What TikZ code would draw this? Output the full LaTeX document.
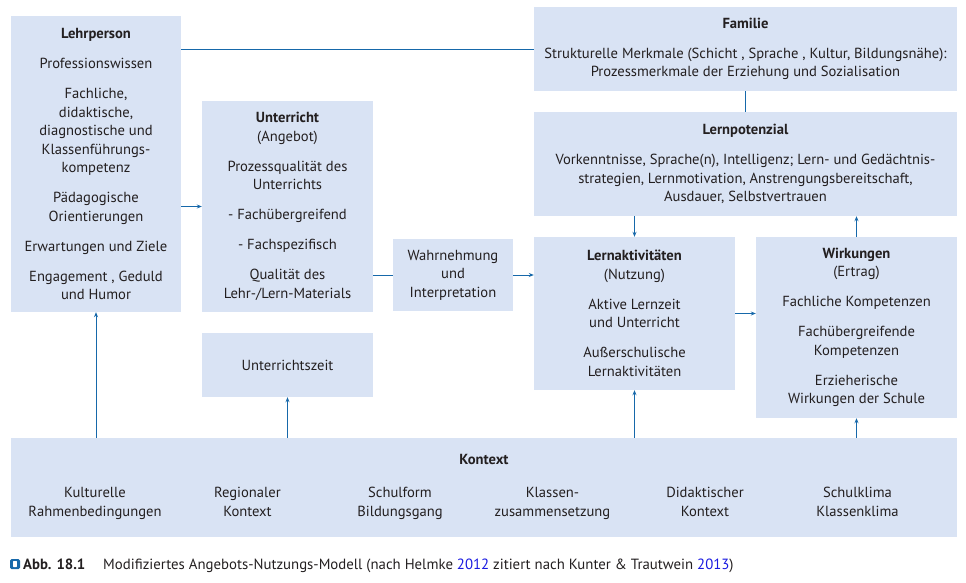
\documentclass[tikz,border=0pt]{standalone}
\usepackage{fontspec}
\setmainfont{PT Sans}
\usetikzlibrary{arrows.meta,positioning}
\definecolor{boxfill}{RGB}{217,227,244}
\definecolor{linkblue}{RGB}{22,104,170}
\definecolor{citeblue}{RGB}{25,25,225}
\definecolor{textgray}{RGB}{35,31,32}
\tikzset{
  box/.style={fill=boxfill,inner sep=0pt,align=center,text=textgray,
    font=\fontsize{14.6}{18.5}\selectfont},
  ctxitem/.style={box,fill=none,execute at begin node=\strut,execute at end node=\strut},
  link/.style={linkblue,line width=1pt},
  arr/.style={link,-{Stealth[length=5pt,width=4pt]}},
  caption/.style={inner sep=0pt,text=textgray,font=\fontsize{14.8}{16}\selectfont},
}
\begin{document}
\begin{tikzpicture}[x=1pt,y=-1pt]
\useasboundingbox (0,0) rectangle (966,582);
% Boxes
\node[box,minimum width=170,minimum height=296] (lehrperson) at (96,164)
  {\textbf{Lehrperson}\\[11.5pt] Professionswissen\\[11.5pt] Fachliche,\\didaktische,\\diagnostische und\\Klassenführungs-\\kompetenz\\[11.5pt] Pädagogische\\Orientierungen\\[11.5pt] Erwartungen und Ziele\\[11.5pt] Engagement , Geduld\\und Humor};
\node[box,minimum width=171,minimum height=211] (unterricht) at (287.5,206.5)
  {\textbf{Unterricht}\\(Angebot)\\[11.5pt] Prozessqualität des\\Unterrichts\\[11.5pt] - Fachübergreifend\\[11.5pt] - Fachspezifisch\\[11.5pt] Qualität des\\Lehr-/Lern-Materials};
\node[box,minimum width=171,minimum height=64] (uzeit) at (287.5,365) {Unterrichtszeit};
\node[box,minimum width=120,minimum height=72] (wahrnehmung) at (453,275)
  {Wahrnehmung\\und\\Interpretation};
\node[box,minimum width=423,minimum height=84] (familie) at (745.5,49)
  {\textbf{Familie}\\[11.5pt] Strukturelle Merkmale (Schicht , Sprache , Kultur, Bildungsnähe):\\Prozessmerkmale der Erziehung und Sozialisation};
\node[box,minimum width=423,minimum height=104] (lernpot) at (745.5,164)
  {\textbf{Lernpotenzial}\\[11.5pt] Vorkenntnisse, Sprache(n), Intelligenz; Lern- und Gedächtnis-\\strategien, Lernmotivation, Anstrengungsbereitschaft,\\Ausdauer, Selbstvertrauen};
\node[box,minimum width=201,minimum height=153] (lernakt) at (634.5,313.5)
  {\textbf{Lernaktivitäten}\\(Nutzung)\\[11.5pt] Aktive Lernzeit\\und Unterricht\\[11.5pt] Außerschulische\\Lernaktivitäten};
\node[box,minimum width=201,minimum height=181] (wirkungen) at (856.5,327.5)
  {\textbf{Wirkungen}\\(Ertrag)\\[11.5pt] Fachliche Kompetenzen\\[11.5pt] Fachübergreifende\\Kompetenzen\\[11.5pt] Erzieherische\\Wirkungen der Schule};
\node[box,minimum width=946,minimum height=99] (kontext) at (484,487.5) {};
\node[box,fill=none] (ktitle) at (484,459) {\textbf{Kontext}};
\foreach \txt [count=\i] in {Kulturelle\\Rahmenbedingungen,Regionaler\\Kontext,Schulform\\Bildungsgang,Klassen-\\zusammensetzung,Didaktischer\\Kontext,Schulklima\\Klassenklima}
  \node[ctxitem] (k\i) at ({95+152.5*(\i-1)},504.5) {\txt};
% Connectors
\draw[link] (lehrperson.east |- familie.west) -- (familie.west);
\draw[arr] (lehrperson.east |- unterricht.west) -- (unterricht.west);
\draw[link] (unterricht.east |- wahrnehmung.west) -- (wahrnehmung.west);
\draw[arr] (wahrnehmung.east) -- (wahrnehmung.east -| lernakt.west);
\draw[arr] (lernakt.east) -- (lernakt.east -| wirkungen.west);
\draw[link] (familie) -- (lernpot);
\draw[arr] (lernpot.south -| lernakt.north) -- (lernakt.north);
\draw[arr] (wirkungen.north) -- (wirkungen.north |- lernpot.south);
\draw[arr] (kontext.north -| lehrperson.south) -- (lehrperson.south);
\draw[arr] (kontext.north -| uzeit.south) -- (uzeit.south);
\draw[arr] (kontext.north -| lernakt.south) -- (lernakt.south);
\draw[arr] (kontext.north -| wirkungen.south) -- (wirkungen.south);
% Caption
\node[fill=linkblue,rounded corners=1.5pt,minimum size=10pt,inner sep=0pt] (icon) at (15,564) {};
\fill[white,rounded corners=0.5pt] (icon.center) ++(-1.8,-3) rectangle ++(3.6,6);
\node[caption,anchor=base west] (abb) at (23,569) {\textbf{Abb. 18.1}};
\node[caption,anchor=base west] (captext) at (103,569)
  {Modifiziertes Angebots-Nutzungs-Modell (nach Helmke \textcolor{citeblue}{2012} zitiert nach Kunter \& Trautwein \textcolor{citeblue}{2013})};
\end{tikzpicture}
\end{document}
